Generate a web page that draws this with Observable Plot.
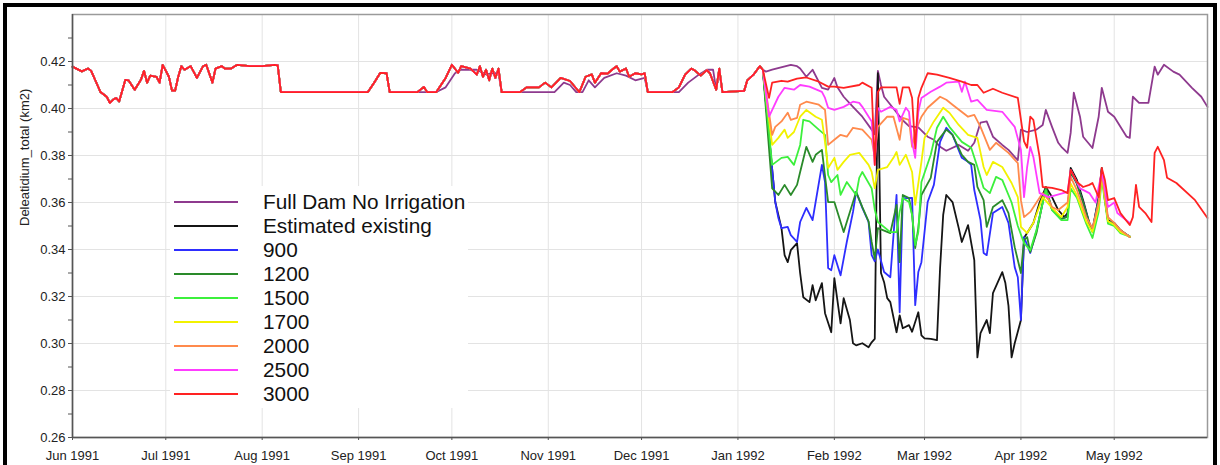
<!DOCTYPE html>
<html><head><meta charset="utf-8">
<script src="https://cdn.jsdelivr.net/npm/d3@7"></script>
<script src="https://cdn.jsdelivr.net/npm/@observablehq/plot@0.6"></script>
<style>
body{margin:0;background:#fff;font-family:Arial,"Liberation Sans",sans-serif;}
#wrap{position:relative;width:1220px;height:465px;overflow:hidden;background:#fff;}
#chart{position:absolute;left:0;top:0;}
#border{position:absolute;left:3px;top:3px;width:1214px;height:490px;border:4px solid #000;box-sizing:border-box;pointer-events:none;}
#legend{position:absolute;left:170px;top:186px;width:298px;height:222px;background:#fff;padding-top:4px;box-sizing:border-box;}
.row{height:24px;display:flex;align-items:center;}
.sw{width:64px;height:2px;margin-left:4px;margin-right:25px;flex:none;}
.lab{font-size:20.8px;color:#111;line-height:24px;white-space:nowrap;}
</style></head>
<body>
<div id="wrap"><div id="chart"></div><div id="legend"></div><div id="border"></div></div>
<script>
const seriesNames = ["Full Dam No Irrigation","Estimated existing","900","1200","1500","1700","2000","2500","3000"];
const seriesColors = ["#8e3a8e","#151515","#2e2eff","#2a8a2a","#3cf03c","#f2f200","#ff8a4c","#ff3cff","#ff2222"];
const yMajor = [0.26,0.28,0.30,0.32,0.34,0.36,0.38,0.40,0.42];
const yMinor = [0.27,0.29,0.31,0.33,0.35,0.37,0.39,0.41,0.43];
const monthTicks = ["1991-06-01","1991-07-01","1991-08-01","1991-09-01","1991-10-01","1991-11-01","1991-12-01","1992-01-01","1992-02-01","1992-03-01","1992-04-01","1992-05-01"];

// common to all scenarios up to 9 Jan 1992
const sharedEarly = [["1991-06-01",0.4178],["1991-06-04",0.4158],["1991-06-06",0.417],["1991-06-07",0.416],["1991-06-09",0.410],["1991-06-10",0.407],["1991-06-12",0.405],["1991-06-13",0.4024],["1991-06-14",0.4037],["1991-06-15",0.4045],["1991-06-16",0.403],["1991-06-18",0.4122],["1991-06-19",0.412],["1991-06-21",0.408],["1991-06-23",0.4122],["1991-06-24",0.416],["1991-06-25",0.411],["1991-06-26",0.414],["1991-06-28",0.4135],["1991-06-29",0.411],["1991-06-30",0.4186],["1991-07-02",0.4135],["1991-07-03",0.4076],["1991-07-04",0.4076],["1991-07-05",0.4135],["1991-07-06",0.418],["1991-07-07",0.4165],["1991-07-09",0.418],["1991-07-11",0.413],["1991-07-13",0.418],["1991-07-14",0.4186],["1991-07-16",0.411],["1991-07-17",0.417],["1991-07-19",0.418],["1991-07-20",0.417],["1991-07-22",0.417],["1991-07-24",0.4186],["1991-07-28",0.418],["1991-08-01",0.418],["1991-08-05",0.4186],["1991-08-06",0.4183],["1991-08-07",0.407],["1991-09-04",0.407],["1991-09-06",0.411],["1991-09-08",0.4152],["1991-09-10",0.415],["1991-09-11",0.407],["1991-09-20",0.407],["1991-09-22",0.4092],["1991-09-23",0.407],["1991-09-26",0.407],["1991-09-29",0.413],["1991-10-01",0.4186],["1991-10-03",0.4152],["1991-10-04",0.418],["1991-10-07",0.417],["1991-10-09",0.4144],["1991-10-10",0.418],["1991-10-11",0.4135],["1991-10-12",0.4165],["1991-10-13",0.412],["1991-10-14",0.417],["1991-10-15",0.413],["1991-10-16",0.417],["1991-10-17",0.407],["1991-10-23",0.407],["1991-10-25",0.409],["1991-10-29",0.409],["1991-10-31",0.411],["1991-11-02",0.409],["1991-11-05",0.413],["1991-11-08",0.4117],["1991-11-10",0.4085],["1991-11-11",0.407],["1991-11-13",0.4135],["1991-11-15",0.4145],["1991-11-16",0.411],["1991-11-18",0.415],["1991-11-20",0.4148],["1991-11-22",0.417],["1991-11-23",0.418],["1991-11-24",0.4157],["1991-11-26",0.417],["1991-11-27",0.4135],["1991-11-29",0.415],["1991-12-01",0.4145],["1991-12-02",0.415],["1991-12-03",0.407],["1991-12-11",0.407],["1991-12-13",0.409],["1991-12-15",0.4144],["1991-12-17",0.417],["1991-12-18",0.4163],["1991-12-20",0.414],["1991-12-22",0.4163],["1991-12-23",0.415],["1991-12-25",0.408],["1991-12-26",0.417],["1991-12-27",0.407],["1992-01-03",0.4075],["1992-01-04",0.412],["1992-01-06",0.4144],["1992-01-08",0.418],["1992-01-09",0.4165]];

// Full Dam No Irrigation differs slightly 20 Sep - 27 Dec 1991
const purpleEarlyOverride = [["1991-09-20",0.407],["1991-09-26",0.407],["1991-09-29",0.409],["1991-10-02",0.415],["1991-10-04",0.4165],["1991-10-09",0.4165],["1991-10-12",0.4145],["1991-10-14",0.415],["1991-10-16",0.415],["1991-10-17",0.407],["1991-11-03",0.407],["1991-11-06",0.411],["1991-11-08",0.410],["1991-11-10",0.407],["1991-11-12",0.407],["1991-11-14",0.412],["1991-11-16",0.409],["1991-11-19",0.413],["1991-11-23",0.415],["1991-11-26",0.414],["1991-11-29",0.412],["1991-12-02",0.413],["1991-12-03",0.407],["1991-12-13",0.407],["1991-12-16",0.411],["1991-12-19",0.414],["1991-12-22",0.4165],["1991-12-24",0.4165],["1991-12-25",0.408],["1991-12-26",0.416],["1991-12-27",0.407]];

const purpleLate = [["1992-01-10",0.4157],["1992-01-12",0.4165],["1992-01-18",0.4186],["1992-01-20",0.418],["1992-01-21",0.417],["1992-01-23",0.4135],["1992-01-25",0.4165],["1992-01-28",0.4088],["1992-01-30",0.408],["1992-02-01",0.413],["1992-02-02",0.409],["1992-02-04",0.405],["1992-02-07",0.4007],["1992-02-10",0.3965],["1992-02-13",0.391],["1992-02-14",0.389],["1992-02-15",0.416],["1992-02-16",0.41],["1992-02-17",0.405],["1992-02-20",0.400],["1992-02-23",0.395],["1992-02-25",0.3925],["1992-02-28",0.392],["1992-03-02",0.388],["1992-03-04",0.3867],["1992-03-06",0.3837],["1992-03-08",0.382],["1992-03-12",0.3845],["1992-03-15",0.382],["1992-03-17",0.3854],["1992-03-19",0.394],["1992-03-21",0.3945],["1992-03-23",0.388],["1992-03-26",0.3845],["1992-03-28",0.3824],["1992-03-30",0.3794],["1992-03-31",0.378],["1992-04-01",0.391],["1992-04-03",0.390],["1992-04-06",0.391],["1992-04-08",0.393],["1992-04-09",0.3994],["1992-04-11",0.3922],["1992-04-13",0.3854],["1992-04-14",0.3837],["1992-04-16",0.3811],["1992-04-17",0.3896],["1992-04-18",0.4067],["1992-04-20",0.3965],["1992-04-21",0.388],["1992-04-24",0.3832],["1992-04-26",0.3965],["1992-04-27",0.4088],["1992-04-29",0.3986],["1992-05-01",0.3965],["1992-05-05",0.388],["1992-05-06",0.3875],["1992-05-07",0.405],["1992-05-09",0.4024],["1992-05-12",0.4024],["1992-05-14",0.4178],["1992-05-15",0.4144],["1992-05-17",0.4186],["1992-05-20",0.4157],["1992-05-22",0.4144],["1992-05-26",0.4088],["1992-05-29",0.405],["1992-05-31",0.4007]];

const estimatedLate = [["1992-01-13",0.3602],["1992-01-15",0.3491],["1992-01-16",0.3376],["1992-01-17",0.3346],["1992-01-18",0.3397],["1992-01-20",0.3427],["1992-01-21",0.3299],["1992-01-22",0.3197],["1992-01-24",0.3176],["1992-01-25",0.3248],["1992-01-26",0.3184],["1992-01-28",0.3257],["1992-01-29",0.3129],["1992-01-31",0.3048],["1992-02-01",0.3278],["1992-02-03",0.3086],["1992-02-04",0.3193],["1992-02-06",0.31],["1992-02-07",0.3001],["1992-02-08",0.2992],["1992-02-10",0.3001],["1992-02-12",0.2984],["1992-02-13",0.3005],["1992-02-14",0.302],["1992-02-15",0.415],["1992-02-16",0.330],["1992-02-17",0.3261],["1992-02-18",0.3193],["1992-02-19",0.3176],["1992-02-21",0.3048],["1992-02-22",0.312],["1992-02-23",0.3065],["1992-02-25",0.3078],["1992-02-26",0.305],["1992-02-28",0.3133],["1992-02-29",0.3035],["1992-03-01",0.3022],["1992-03-03",0.302],["1992-03-05",0.3014],["1992-03-06",0.3321],["1992-03-07",0.3547],["1992-03-08",0.3632],["1992-03-10",0.3602],["1992-03-12",0.3491],["1992-03-13",0.3432],["1992-03-15",0.3504],["1992-03-17",0.3355],["1992-03-18",0.2941],["1992-03-19",0.3044],["1992-03-21",0.31],["1992-03-22",0.3044],["1992-03-23",0.3214],["1992-03-26",0.3304],["1992-03-27",0.3257],["1992-03-28",0.316],["1992-03-29",0.2941],["1992-03-30",0.3001],["1992-04-01",0.31],["1992-04-02",0.345],["1992-04-03",0.347],["1992-04-05",0.3513],["1992-04-07",0.36],["1992-04-09",0.3666],["1992-04-11",0.3623],["1992-04-13",0.3568],["1992-04-15",0.3538],["1992-04-16",0.3555],["1992-04-17",0.3747],["1992-04-19",0.3696],["1992-04-21",0.361],["1992-04-23",0.3513],["1992-04-24",0.3483],["1992-04-26",0.3623],["1992-04-27",0.3747],["1992-04-28",0.361],["1992-04-29",0.3525],["1992-05-01",0.3513],["1992-05-03",0.3483],["1992-05-06",0.3453]];

const s900Late = [["1992-01-13",0.3602],["1992-01-14",0.3534],["1992-01-15",0.3491],["1992-01-17",0.3496],["1992-01-18",0.3461],["1992-01-20",0.3432],["1992-01-21",0.3517],["1992-01-23",0.3577],["1992-01-25",0.3525],["1992-01-28",0.376],["1992-01-29",0.3687],["1992-01-30",0.3321],["1992-01-31",0.3312],["1992-02-01",0.3376],["1992-02-03",0.329],["1992-02-05",0.3432],["1992-02-07",0.356],["1992-02-08",0.3645],["1992-02-10",0.3577],["1992-02-12",0.3517],["1992-02-13",0.3376],["1992-02-14",0.335],["1992-02-15",0.34],["1992-02-17",0.3304],["1992-02-19",0.3282],["1992-02-21",0.3632],["1992-02-22",0.3133],["1992-02-23",0.3619],["1992-02-26",0.362],["1992-02-27",0.3163],["1992-02-28",0.3304],["1992-02-29",0.3346],["1992-03-02",0.3602],["1992-03-04",0.3675],["1992-03-06",0.3858],["1992-03-08",0.3918],["1992-03-10",0.3888],["1992-03-13",0.379],["1992-03-15",0.3773],["1992-03-16",0.376],["1992-03-17",0.3653],["1992-03-19",0.3525],["1992-03-20",0.3385],["1992-03-21",0.3376],["1992-03-23",0.3555],["1992-03-26",0.3581],["1992-03-28",0.3513],["1992-03-30",0.3325],["1992-03-31",0.3282],["1992-04-01",0.310],["1992-04-02",0.3453],["1992-04-04",0.3385],["1992-04-06",0.348],["1992-04-09",0.366],["1992-04-11",0.357],["1992-04-14",0.353],["1992-04-16",0.354],["1992-04-17",0.373],["1992-04-19",0.368],["1992-04-21",0.36],["1992-04-23",0.351],["1992-04-24",0.348],["1992-04-26",0.362],["1992-04-27",0.374],["1992-04-29",0.352],["1992-05-01",0.351],["1992-05-03",0.348],["1992-05-06",0.3455]];

const s1200Late = [["1992-01-12",0.366],["1992-01-14",0.3632],["1992-01-16",0.3675],["1992-01-18",0.3632],["1992-01-20",0.3675],["1992-01-21",0.373],["1992-01-23",0.3837],["1992-01-25",0.3773],["1992-01-26",0.3803],["1992-01-28",0.3824],["1992-01-30",0.3602],["1992-02-01",0.3602],["1992-02-02",0.356],["1992-02-04",0.3474],["1992-02-06",0.356],["1992-02-08",0.3645],["1992-02-10",0.358],["1992-02-12",0.352],["1992-02-13",0.3432],["1992-02-14",0.336],["1992-02-15",0.3491],["1992-02-19",0.347],["1992-02-21",0.359],["1992-02-22",0.3346],["1992-02-23",0.3632],["1992-02-25",0.3619],["1992-02-26",0.355],["1992-02-27",0.3406],["1992-02-28",0.3491],["1992-02-29",0.3632],["1992-03-03",0.3705],["1992-03-05",0.3858],["1992-03-08",0.391],["1992-03-10",0.3888],["1992-03-13",0.3803],["1992-03-15",0.3773],["1992-03-17",0.376],["1992-03-18",0.3666],["1992-03-20",0.361],["1992-03-21",0.3496],["1992-03-23",0.3581],["1992-03-26",0.361],["1992-03-28",0.3555],["1992-03-30",0.341],["1992-04-01",0.330],["1992-04-02",0.344],["1992-04-03",0.3453],["1992-04-04",0.3389],["1992-04-06",0.347],["1992-04-09",0.3666],["1992-04-11",0.357],["1992-04-14",0.353],["1992-04-16",0.354],["1992-04-17",0.373],["1992-04-19",0.368],["1992-04-21",0.36],["1992-04-23",0.351],["1992-04-24",0.3475],["1992-04-26",0.3615],["1992-04-27",0.374],["1992-04-29",0.352],["1992-05-01",0.351],["1992-05-03",0.348],["1992-05-06",0.3455]];

const s1500Late = [["1992-01-12",0.376],["1992-01-15",0.379],["1992-01-17",0.3794],["1992-01-19",0.376],["1992-01-21",0.3845],["1992-01-22",0.3952],["1992-01-24",0.3945],["1992-01-27",0.391],["1992-01-29",0.3888],["1992-01-30",0.3717],["1992-01-31",0.3687],["1992-02-02",0.3717],["1992-02-03",0.3632],["1992-02-05",0.3687],["1992-02-08",0.3632],["1992-02-09",0.3705],["1992-02-10",0.373],["1992-02-13",0.366],["1992-02-14",0.357],["1992-02-15",0.3517],["1992-02-19",0.3474],["1992-02-21",0.3474],["1992-02-22",0.356],["1992-02-23",0.3619],["1992-02-25",0.3602],["1992-02-26",0.3547],["1992-02-27",0.3419],["1992-02-28",0.3474],["1992-02-29",0.3687],["1992-03-03",0.3803],["1992-03-05",0.3918],["1992-03-07",0.3965],["1992-03-09",0.3922],["1992-03-13",0.3858],["1992-03-16",0.3833],["1992-03-18",0.3751],["1992-03-20",0.3662],["1992-03-22",0.364],["1992-03-24",0.3709],["1992-03-26",0.3696],["1992-03-29",0.36],["1992-03-31",0.350],["1992-04-02",0.3427],["1992-04-04",0.3397],["1992-04-06",0.3483],["1992-04-09",0.3653],["1992-04-11",0.3568],["1992-04-14",0.3525],["1992-04-16",0.3525],["1992-04-17",0.366],["1992-04-19",0.362],["1992-04-22",0.351],["1992-04-24",0.3449],["1992-04-26",0.356],["1992-04-27",0.370],["1992-04-29",0.351],["1992-05-01",0.350],["1992-05-03",0.347],["1992-05-06",0.3455]];

const s1700Late = [["1992-01-12",0.3845],["1992-01-14",0.3875],["1992-01-16",0.391],["1992-01-17",0.3875],["1992-01-19",0.39],["1992-01-21",0.3965],["1992-01-23",0.3994],["1992-01-26",0.3965],["1992-01-28",0.3952],["1992-01-29",0.3858],["1992-01-30",0.3747],["1992-02-01",0.379],["1992-02-02",0.3739],["1992-02-04",0.3773],["1992-02-06",0.3803],["1992-02-09",0.3811],["1992-02-12",0.376],["1992-02-13",0.373],["1992-02-14",0.366],["1992-02-15",0.3739],["1992-02-18",0.3751],["1992-02-20",0.379],["1992-02-21",0.3815],["1992-02-22",0.376],["1992-02-24",0.3803],["1992-02-26",0.373],["1992-02-27",0.359],["1992-02-29",0.3773],["1992-03-01",0.3875],["1992-03-04",0.3945],["1992-03-07",0.4003],["1992-03-09",0.3982],["1992-03-12",0.393],["1992-03-15",0.3888],["1992-03-18",0.3875],["1992-03-20",0.3751],["1992-03-21",0.3717],["1992-03-23",0.3773],["1992-03-26",0.3751],["1992-03-29",0.3683],["1992-03-31",0.3623],["1992-04-01",0.3496],["1992-04-03",0.347],["1992-04-05",0.3513],["1992-04-08",0.3623],["1992-04-11",0.3577],["1992-04-14",0.3538],["1992-04-16",0.3581],["1992-04-17",0.368],["1992-04-19",0.363],["1992-04-22",0.352],["1992-04-24",0.3475],["1992-04-26",0.358],["1992-04-27",0.3715],["1992-04-29",0.352],["1992-05-01",0.3505],["1992-05-03",0.3475],["1992-05-06",0.3455]];

const s2000Late = [["1992-01-12",0.3888],["1992-01-13",0.3922],["1992-01-15",0.3945],["1992-01-17",0.3982],["1992-01-18",0.3952],["1992-01-20",0.396],["1992-01-21",0.4016],["1992-01-23",0.4029],["1992-01-27",0.4016],["1992-01-29",0.3994],["1992-01-30",0.3845],["1992-02-01",0.3867],["1992-02-03",0.3888],["1992-02-05",0.388],["1992-02-07",0.3918],["1992-02-10",0.391],["1992-02-13",0.3867],["1992-02-14",0.3794],["1992-02-15",0.3922],["1992-02-18",0.3965],["1992-02-20",0.3965],["1992-02-22",0.3867],["1992-02-23",0.396],["1992-02-25",0.3952],["1992-02-26",0.3837],["1992-02-27",0.39],["1992-02-29",0.3965],["1992-03-02",0.4003],["1992-03-06",0.405],["1992-03-08",0.4037],["1992-03-10",0.4016],["1992-03-15",0.3965],["1992-03-17",0.3973],["1992-03-19",0.3922],["1992-03-22",0.3824],["1992-03-24",0.3854],["1992-03-28",0.3811],["1992-03-31",0.3768],["1992-04-01",0.361],["1992-04-02",0.3538],["1992-04-04",0.356],["1992-04-06",0.36],["1992-04-08",0.364],["1992-04-10",0.361],["1992-04-11",0.3581],["1992-04-13",0.3568],["1992-04-16",0.36],["1992-04-17",0.3709],["1992-04-19",0.3653],["1992-04-22",0.3538],["1992-04-24",0.3491],["1992-04-26",0.36],["1992-04-27",0.3726],["1992-04-29",0.3538],["1992-05-01",0.3513],["1992-05-03",0.3483],["1992-05-06",0.3453]];

const s2500Late = [["1992-01-11",0.3965],["1992-01-14",0.405],["1992-01-16",0.4088],["1992-01-19",0.408],["1992-01-21",0.410],["1992-01-24",0.4093],["1992-01-28",0.4071],["1992-01-29",0.4045],["1992-01-30",0.4003],["1992-02-01",0.3994],["1992-02-04",0.4007],["1992-02-07",0.4029],["1992-02-09",0.4024],["1992-02-10",0.4007],["1992-02-13",0.3945],["1992-02-14",0.376],["1992-02-15",0.4003],["1992-02-16",0.3986],["1992-02-19",0.4007],["1992-02-21",0.3994],["1992-02-22",0.3945],["1992-02-24",0.4003],["1992-02-25",0.3986],["1992-02-26",0.3858],["1992-02-27",0.379],["1992-02-28",0.3986],["1992-02-29",0.4045],["1992-03-03",0.4071],["1992-03-06",0.4093],["1992-03-08",0.411],["1992-03-12",0.4114],["1992-03-13",0.4071],["1992-03-14",0.4114],["1992-03-16",0.4029],["1992-03-18",0.4037],["1992-03-21",0.3994],["1992-03-26",0.3986],["1992-03-30",0.3922],["1992-04-01",0.3824],["1992-04-02",0.3623],["1992-04-03",0.3751],["1992-04-04",0.3837],["1992-04-05",0.3794],["1992-04-07",0.364],["1992-04-10",0.3623],["1992-04-16",0.3645],["1992-04-17",0.3739],["1992-04-20",0.366],["1992-04-23",0.364],["1992-04-25",0.360],["1992-04-27",0.373],["1992-04-29",0.3581],["1992-05-01",0.360],["1992-05-02",0.3555],["1992-05-06",0.3513]];

const s3000Late = [["1992-01-11",0.4045],["1992-01-12",0.411],["1992-01-15",0.4118],["1992-01-17",0.4114],["1992-01-20",0.4127],["1992-01-23",0.4132],["1992-01-27",0.4114],["1992-01-30",0.4093],["1992-02-01",0.4093],["1992-02-04",0.4088],["1992-02-09",0.410],["1992-02-10",0.411],["1992-02-13",0.4088],["1992-02-14",0.376],["1992-02-15",0.407],["1992-02-16",0.409],["1992-02-21",0.409],["1992-02-22",0.402],["1992-02-23",0.409],["1992-02-25",0.409],["1992-02-26",0.4045],["1992-02-27",0.383],["1992-02-28",0.4045],["1992-02-29",0.4088],["1992-03-02",0.415],["1992-03-05",0.4144],["1992-03-09",0.413],["1992-03-13",0.4114],["1992-03-16",0.410],["1992-03-18",0.410],["1992-03-20",0.4067],["1992-03-23",0.4084],["1992-03-26",0.4067],["1992-03-31",0.4045],["1992-04-02",0.386],["1992-04-03",0.3833],["1992-04-04",0.3965],["1992-04-05",0.3952],["1992-04-07",0.3794],["1992-04-08",0.3666],["1992-04-11",0.3662],["1992-04-14",0.3653],["1992-04-16",0.364],["1992-04-17",0.3739],["1992-04-19",0.3687],["1992-04-21",0.3666],["1992-04-23",0.3675],["1992-04-24",0.3683],["1992-04-26",0.3623],["1992-04-27",0.3747],["1992-04-28",0.3696],["1992-04-29",0.361],["1992-05-01",0.3619],["1992-05-03",0.3555],["1992-05-06",0.3504],["1992-05-07",0.3538],["1992-05-08",0.3675],["1992-05-09",0.3581],["1992-05-11",0.3555],["1992-05-13",0.3517],["1992-05-14",0.3811],["1992-05-15",0.3837],["1992-05-17",0.378],["1992-05-18",0.3705],["1992-05-21",0.3683],["1992-05-27",0.361],["1992-05-31",0.3534]];

const parse = d3.utcParse("%Y-%m-%d");
const build = (early, late) => early.concat(late).map(([d, v]) => ({date: parse(d), value: v}));
const purpleEarly = sharedEarly.filter(([d]) => d < "1991-09-20" || d > "1991-12-27")
  .concat(purpleEarlyOverride).sort((a, b) => a[0] < b[0] ? -1 : a[0] > b[0] ? 1 : 0);

const lateList = [purpleLate, estimatedLate, s900Late, s1200Late, s1500Late, s1700Late, s2000Late, s2500Late, s3000Late];
const seriesData = lateList.map((late, i) => build(i === 0 ? purpleEarly : sharedEarly, late));

const x0 = parse("1991-06-01"), x1 = parse("1992-05-31");
const months = monthTicks.map(parse);

const chart = Plot.plot({
  width: 1220, height: 465,
  marginLeft: 72, marginRight: 13, marginTop: 14, marginBottom: 28,
  style: {fontFamily: "Arial, 'Liberation Sans', sans-serif", fontSize: "13px", color: "#222", background: "transparent"},
  x: {type: "utc", domain: [x0, x1]},
  y: {domain: [0.26, 0.44]},
  marks: [
    Plot.gridY(yMajor.slice(1), {stroke: "#e3e3e3", strokeOpacity: 1}),
    Plot.gridX(months.slice(1), {stroke: "#e3e3e3", strokeOpacity: 1}),
    ...seriesData.map((data, i) => Plot.line(data, {x: "date", y: "value", stroke: seriesColors[i], strokeWidth: 1.8})),
    Plot.frame({stroke: "#9a9a9a", strokeWidth: 1.5}),
    Plot.ruleX([x0], {stroke: "#555", strokeWidth: 1.5}),
    Plot.ruleY([0.26], {stroke: "#555", strokeWidth: 1.5}),
    Plot.axisY(yMajor, {tickSize: 4, tickPadding: 3, tickFormat: d3.format(".2f"), label: null, fontSize: 13, stroke: "#555"}),
    Plot.axisY(yMinor, {tickSize: 4, tickFormat: () => "", label: null, stroke: "#555"}),
    Plot.axisX(months, {tickSize: 3, tickPadding: 10, tickFormat: d3.utcFormat("%b %Y"), label: null, fontSize: 13, stroke: "#555"}),
    Plot.text(["Deleatidium_total (km2)"], {frameAnchor: "left", dx: -48, rotate: -90, fontSize: 13, fill: "#222"})
  ]
});
document.getElementById("chart").appendChild(chart);

const legend = document.getElementById("legend");
seriesNames.forEach((name, i) => {
  const row = document.createElement("div");
  row.className = "row";
  const sw = document.createElement("div");
  sw.className = "sw";
  sw.style.background = seriesColors[i];
  const lab = document.createElement("span");
  lab.className = "lab";
  lab.textContent = name;
  row.appendChild(sw); row.appendChild(lab);
  legend.appendChild(row);
});
</script>
</body></html>
